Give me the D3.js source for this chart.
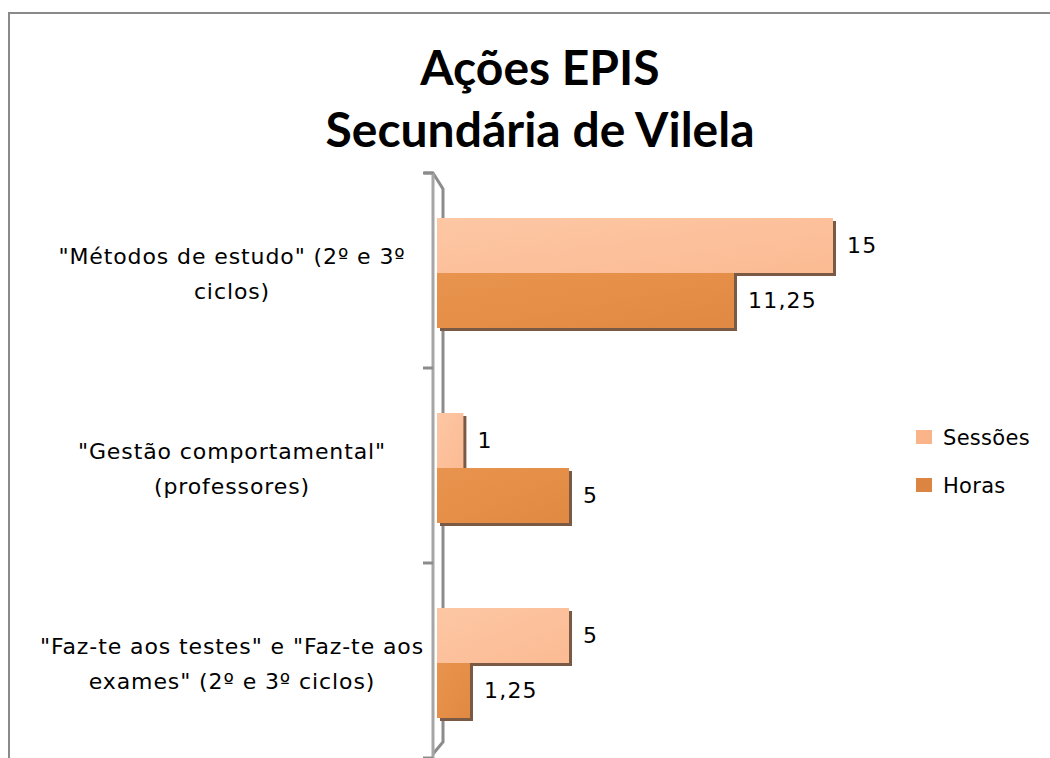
<!DOCTYPE html>
<html>
<head>
<meta charset="utf-8">
<script src="https://cdn.jsdelivr.net/npm/d3@7"></script>
<style>
  body { margin: 0; background: #fff; }
  svg { display: block; }
</style>
</head>
<body>
<svg id="chart" width="1050" height="758"></svg>
<script>
// chart data
var categories = [
  ['"Métodos de estudo" (2º e 3º', 'ciclos)'],
  ['"Gestão comportamental"', '(professores)'],
  ['"Faz-te aos testes" e "Faz-te aos', 'exames" (2º e 3º ciclos)']
]
var seriesNames = ["Sessões", "Horas"]
var sessoes = [15, 1, 5]
var horas = [11.25, 5, 1.25]
var titleLines = ["Ações EPIS", "Secundária de Vilela"]

var legendColors = { "Sessões": "#f9b48a", "Horas": "#dc8441" }

var catKeys = categories.map(function(c) { return c.join(" ") })
var rows = catKeys.map(function(k, i) {
  return { cat: k, values: [
    { name: "Sessões", value: sessoes[i] },
    { name: "Horas", value: horas[i] }
  ] }
})

var locale = d3.formatLocale({ decimal: ",", thousands: ".", grouping: [3], currency: ["", "€"] })
var fmt = locale.format(",")

var svg = d3.select("#chart")
var font = "'DejaVu Sans', sans-serif"

// outer frame
svg.append("rect")
  .attr("x", 9).attr("y", 13)
  .attr("width", 1100).attr("height", 800)
  .attr("fill", "none")
  .attr("stroke", "#8a8a8a")
  .attr("stroke-width", 2)

// title
svg.append("g")
  .selectAll("text")
  .data(titleLines)
  .enter().append("text")
  .attr("x", 540)
  .attr("y", function(d, i) { return 85 + i * 62 })
  .attr("text-anchor", "middle")
  .style("font", "bold 48px Lato, sans-serif")
  .attr("fill", "#000")
  .text(function(d) { return d })

// scales
var y = d3.scaleBand()
  .domain(catKeys)
  .range([173, 758])

var inner = d3.scaleBand()
  .domain(seriesNames)
  .range([45, 155])

var x = d3.scaleLinear()
  .domain([0, 15])
  .range([437, 833])

// gradients for the bar faces
var defs = svg.append("defs")
var grads = { "Sessões": ["#fdc7a4", "#fbbb93"], "Horas": ["#e9944e", "#e08942"] }
seriesNames.forEach(function(s, i) {
  var g = defs.append("linearGradient")
    .attr("id", "grad" + i)
    .attr("x1", "0").attr("y1", "0").attr("x2", "1").attr("y2", "1")
  g.append("stop").attr("offset", "0%").attr("stop-color", grads[s][0])
  g.append("stop").attr("offset", "100%").attr("stop-color", grads[s][1])
})

// back wall line of the axis
var y0 = y.range()[0], y1 = y.range()[1]
svg.append("path")
  .attr("d", "M424," + y0 + "L433," + y0 + "L443," + (y0 + 16) + "L443," + (y1 - 16) + "L433," + (y1 - 4))
  .attr("fill", "none")
  .attr("stroke", "#8c8c8c")
  .attr("stroke-width", 3)

// bars
var groups = svg.selectAll(".cat")
  .data(rows)
  .enter().append("g")
  .attr("class", "cat")
  .attr("transform", function(d) { return "translate(0," + y(d.cat) + ")" })

var bar = groups.selectAll(".bar")
  .data(function(d) { return d.values })
  .enter().append("g")
  .attr("class", "bar")

// side/bottom face
bar.append("rect")
  .attr("x", x(0) + 3)
  .attr("y", function(d) { return inner(d.name) + 3 })
  .attr("width", function(d) { return x(d.value) - x(0) })
  .attr("height", inner.bandwidth())
  .attr("fill", "#7b5a45")

bar.append("rect")
  .attr("x", x(0))
  .attr("y", function(d) { return inner(d.name) })
  .attr("width", function(d) { return x(d.value) - x(0) })
  .attr("height", inner.bandwidth())
  .attr("fill", function(d) { return "url(#grad" + seriesNames.indexOf(d.name) + ")" })

// value labels
bar.append("text")
  .attr("x", function(d) { return x(d.value) + 14 })
  .attr("y", function(d) { return inner(d.name) + inner.bandwidth() / 2 })
  .attr("dy", "0.36em")
  .style("font", "22px " + font)
  .style("letter-spacing", "1.2px")
  .attr("fill", "#000")
  .text(function(d) { return fmt(d.value) })

// front axis line with ticks at band edges
var edges = catKeys.map(function(k) { return y(k) }).concat([y1])
var axis = svg.append("g").attr("class", "axis")
axis.append("line")
  .attr("x1", 433).attr("x2", 433)
  .attr("y1", y0).attr("y2", y1)
  .attr("stroke", "#a6a6a6")
  .attr("stroke-width", 3)
axis.selectAll(".tick")
  .data(edges)
  .enter().append("line")
  .attr("class", "tick")
  .attr("x1", 423).attr("x2", 433)
  .attr("y1", function(d) { return d }).attr("y2", function(d) { return d })
  .attr("stroke", "#8c8c8c")
  .attr("stroke-width", 3)

// category labels
svg.append("g")
  .selectAll("text")
  .data(categories)
  .enter().append("text")
  .attr("text-anchor", "middle")
  .style("font", "22px " + font)
  .style("letter-spacing", "0.9px")
  .attr("fill", "#000")
  .each(function(d, i) {
    var t = d3.select(this)
    var cy = y(catKeys[i]) + y.bandwidth() / 2 + 3
    d.forEach(function(line, j) {
      t.append("tspan")
        .attr("x", 232)
        .attr("y", cy + (j - 0.5) * 35)
        .attr("dy", "0.36em")
        .text(line)
    })
  })

// legend
var legend = svg.append("g")
  .selectAll("g")
  .data(seriesNames)
  .enter().append("g")
  .attr("transform", function(d, i) { return "translate(916," + (430 + i * 48) + ")" })

legend.append("rect")
  .attr("width", 16).attr("height", 14)
  .attr("fill", function(d) { return legendColors[d] })

legend.append("text")
  .attr("x", 27).attr("y", 7)
  .attr("dy", "0.36em")
  .style("font", "21px " + font)
  .style("letter-spacing", "0.3px")
  .attr("fill", "#000")
  .text(function(d) { return d })
</script>
</body>
</html>
